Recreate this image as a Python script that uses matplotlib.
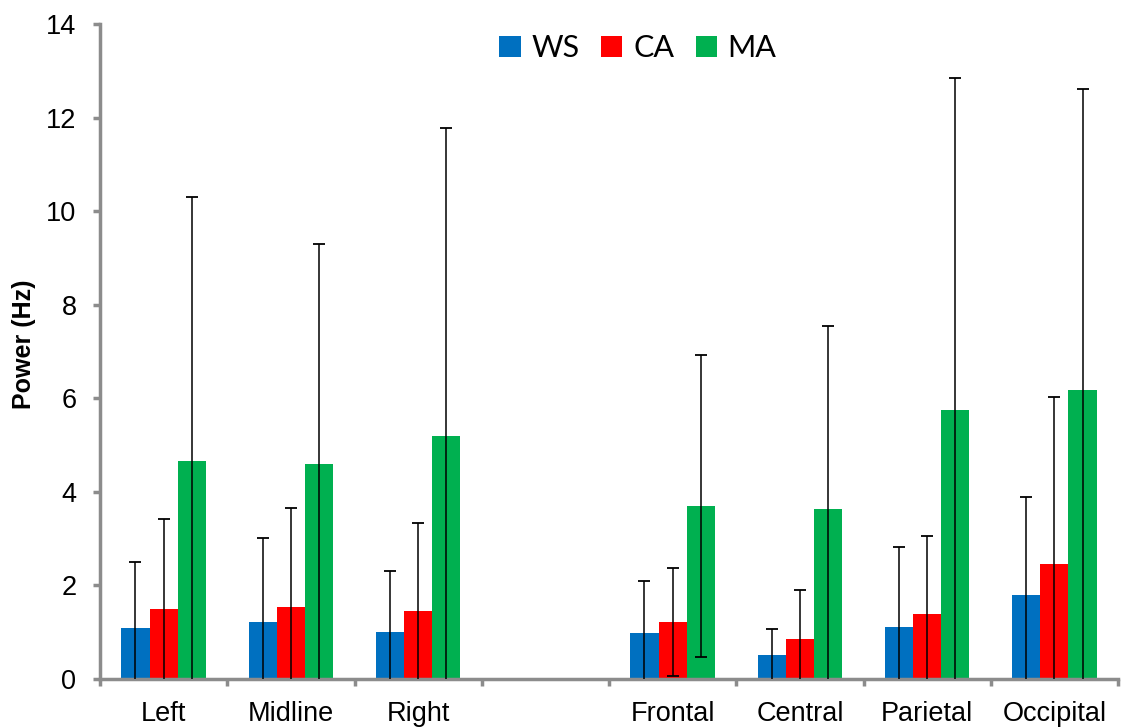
import numpy as np
import matplotlib
matplotlib.use("Agg")
import matplotlib.pyplot as plt
from matplotlib.patches import Patch

# Scalp regions (blank slot separates hemisphere from lobe groups)
categories = ["Left", "Midline", "Right", "", "Frontal", "Central", "Parietal", "Occipital"]
groups = ["WS", "CA", "MA"]

ws_mean = [1.08, 1.22, 1.00, None, 0.99, 0.51, 1.11, 1.80]
ca_mean = [1.49, 1.54, 1.45, None, 1.22, 0.85, 1.40, 2.45]
ma_mean = [4.66, 4.59, 5.19, None, 3.70, 3.64, 5.74, 6.18]

# Upper end of each error bar (mean + SD)
ws_upper = [2.51, 3.01, 2.31, None, 2.10, 1.07, 2.82, 3.89]
ca_upper = [3.43, 3.66, 3.33, None, 2.38, 1.90, 3.06, 6.03]
ma_upper = [10.30, 9.29, 11.77, None, 6.92, 7.55, 12.84, 12.61]

colors = {"WS": "#0070C0", "CA": "#FF0000", "MA": "#00B050"}
axis_gray = "#8c8c8c"

fig = plt.figure(figsize=(11.24, 7.28), dpi=100)
ax = fig.add_axes([100 / 1124, 1 - 679 / 728, 1018 / 1124, 655 / 728])

bar_w = 0.222
offsets = [-bar_w, 0.0, bar_w]
series = [(ws_mean, ws_upper), (ca_mean, ca_upper), (ma_mean, ma_upper)]

for name, off, (means, uppers) in zip(groups, offsets, series):
    idx = [i for i, m in enumerate(means) if m is not None]
    x = np.array(idx, dtype=float) + off
    m = np.array([means[i] for i in idx])
    sd = np.array([uppers[i] for i in idx]) - m
    ax.bar(x, m, width=bar_w, color=colors[name], zorder=2, linewidth=0)
    ax.errorbar(x, m, yerr=sd, fmt="none", ecolor="black", elinewidth=1.1,
                capsize=4.5, capthick=1.3, zorder=3)

ax.set_xlim(-0.5, len(categories) - 0.5)
ax.set_ylim(0, 14)
ax.set_yticks(np.arange(0, 15, 2))

ax.set_xticks(np.arange(len(categories)))
ax.set_xticklabels(categories)
ax.set_xticks(np.arange(-0.5, len(categories), 1.0), minor=True)
ax.tick_params(axis="x", which="major", length=0, pad=16)
ax.tick_params(axis="x", which="minor", length=5, width=2.5, color=axis_gray,
               direction="out")
ax.tick_params(axis="y", length=5, width=2.5, color=axis_gray, pad=12)

for lab in ax.get_xticklabels() + ax.get_yticklabels():
    lab.set_fontfamily("Liberation Sans")
    lab.set_fontsize(19.5)
    lab.set_color("black")

for side in ("top", "right"):
    ax.spines[side].set_visible(False)
for side in ("left", "bottom"):
    ax.spines[side].set_color(axis_gray)
    ax.spines[side].set_linewidth(2.5)

ax.set_ylabel("Power (Hz)", fontfamily="Liberation Sans", fontweight="bold",
              fontsize=18, va="center")
ax.yaxis.set_label_coords((24 - 100) / 1018, (679 - 344) / 655)

handles = [Patch(facecolor=colors[g], edgecolor="none") for g in groups]
leg = fig.legend(handles, groups, loc="center", bbox_to_anchor=(638 / 1124, 1 - 48 / 728),
                 ncol=3, frameon=False, handlelength=0.7, handleheight=0.7,
                 handletextpad=0.35, columnspacing=0.7, borderpad=0,
                 prop={"family": "Lato", "size": 22})

fig.savefig("out.png", dpi=100)
